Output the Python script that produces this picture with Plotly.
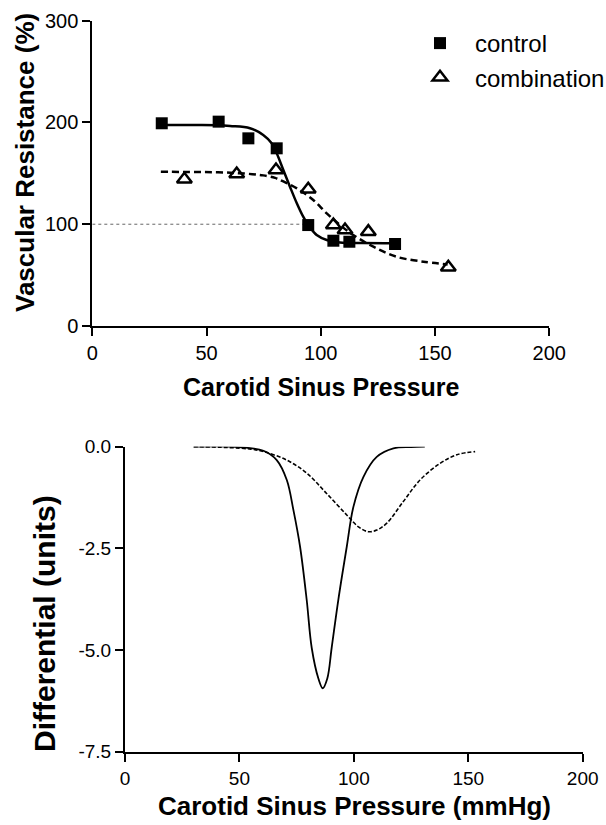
import plotly.graph_objects as go

# ---------------- data ----------------
# Top panel: measured points
control_x = [30.4, 55.3, 68.3, 80.7, 94.5, 105.5, 112.5, 132.5]
control_y = [199.2, 200.8, 184.4, 174.6, 99.2, 83.8, 82.8, 80.6]
combo_x = [40.3, 63.2, 80.4, 94.5, 105.5, 110.6, 120.8, 155.8]
combo_y = [144.1, 149.4, 153.3, 134.3, 99.2, 94.3, 92.7, 57.7]

# Top panel: fitted curves
control_fit_x = [30, 45, 55, 60.3, 69, 74.8, 78.5, 80.7, 83.6, 86.5, 89.5, 92.3,
                 94.5, 98.2, 102.6, 108.4, 118, 132.5]
control_fit_y = [197.5, 197.5, 197.3, 196.5, 194.3, 187.7, 179.5, 169.7, 153.3, 136.9,
                 120.6, 107.4, 99.2, 89.4, 84.5, 82.0, 81.5, 81.3]
combo_fit_x = [30, 45, 55, 63, 70, 74.8, 80, 83.6, 89.5, 96.7, 102.6, 108.4, 114.2,
               123, 133.2, 144.9, 155.5]
combo_fit_y = [151.6, 151.3, 151.0, 150.3, 149.2, 148.0, 145.5, 142.0, 135.3, 123.8,
               110.7, 99.2, 89.4, 77.9, 68.0, 63.2, 60.5]

# Reference (100 %) dotted line
ref_x = [0, 94.5]
ref_y = [100, 100]

# Bottom panel: differential curves
ctrl_diff_x = [30, 50, 60.5, 66.3, 70.7, 73.6, 76.5, 79.4, 81.6, 84.5, 86.4, 88.4, 90.3,
               93.2, 96.9, 99.8, 104.2, 110, 117.3, 125, 131]
ctrl_diff_y = [0, -0.01, -0.1, -0.33, -0.82, -1.56, -2.46, -3.77, -4.95, -5.7, -5.94,
               -5.7, -4.95, -3.77, -2.46, -1.48, -0.74, -0.25, -0.04, -0.01, 0]
combo_diff_x = [30, 45, 55, 60.5, 70.7, 79.4, 88.1, 96.9, 102, 106.3, 110, 114.4, 121.6,
                128.9, 137.7, 145, 153]
combo_diff_y = [0, -0.02, -0.06, -0.12, -0.33, -0.65, -1.15, -1.68, -1.97, -2.09, -2.05,
                -1.88, -1.35, -0.82, -0.41, -0.2, -0.12]

x_ticks = [0, 50, 100, 150, 200]
top_y_ticks = [0, 100, 200, 300]
bot_y_ticks = [0, -2.5, -5.0, -7.5]
bot_y_ticktext = ["0.0", "-2.5", "-5.0", "-7.5"]

# ---------------- figure ----------------
W, H = 606, 825
FONT = "Liberation Sans, Arial, sans-serif"

fig = go.Figure()

# top panel
fig.add_trace(go.Scatter(x=ref_x, y=ref_y, mode="lines",
                         line=dict(color="#666666", width=1, dash="dot"),
                         showlegend=False, hoverinfo="skip", xaxis="x", yaxis="y"))
fig.add_trace(go.Scatter(x=control_fit_x, y=control_fit_y, mode="lines",
                         line=dict(color="black", width=2.5, shape="spline"),
                         showlegend=False, xaxis="x", yaxis="y"))
fig.add_trace(go.Scatter(x=combo_fit_x, y=combo_fit_y, mode="lines",
                         line=dict(color="black", width=2.5, shape="spline", dash="7px,4px"),
                         showlegend=False, xaxis="x", yaxis="y"))
fig.add_trace(go.Scatter(x=control_x, y=control_y, mode="markers", name="control",
                         marker=dict(symbol="square", size=12, color="black"),
                         xaxis="x", yaxis="y", cliponaxis=False))
fig.add_trace(go.Scatter(x=combo_x, y=combo_y, mode="markers", name="combination",
                         marker=dict(symbol="triangle-up-open", size=13, color="black",
                                     line=dict(width=2.5, color="black")),
                         xaxis="x", yaxis="y", cliponaxis=False))

# bottom panel
fig.add_trace(go.Scatter(x=ctrl_diff_x, y=ctrl_diff_y, mode="lines",
                         line=dict(color="black", width=1.8, shape="spline"),
                         showlegend=False, xaxis="x2", yaxis="y2"))
fig.add_trace(go.Scatter(x=combo_diff_x, y=combo_diff_y, mode="lines",
                         line=dict(color="black", width=1.6, shape="spline", dash="4px,2px"),
                         showlegend=False, xaxis="x2", yaxis="y2"))

axis_common = dict(showline=True, linecolor="black", linewidth=2, ticks="outside",
                   ticklen=8, tickwidth=2, tickcolor="black", showgrid=False,
                   zeroline=False, fixedrange=True, automargin=False)

def px_x(p):
    return p / W

def px_y(p):
    return 1 - p / H

fig.update_layout(
    width=W, height=H,
    margin=dict(l=0, r=0, t=0, b=0, pad=0, autoexpand=False),
    paper_bgcolor="white", plot_bgcolor="white",
    font=dict(family=FONT, color="black"),
    xaxis=dict(domain=[px_x(92.3), px_x(549.3)], range=[0, 200], tickvals=x_ticks,
               anchor="y", tickfont=dict(size=20), **axis_common),
    yaxis=dict(domain=[px_y(326), px_y(20.7)], range=[0, 300], tickvals=top_y_ticks,
               anchor="x", tickfont=dict(size=20), **axis_common),
    xaxis2=dict(domain=[px_x(125), px_x(582.7)], range=[0, 200], tickvals=x_ticks,
                anchor="y2", tickfont=dict(size=19), **axis_common),
    yaxis2=dict(domain=[px_y(751.7), px_y(446.7)], range=[-7.5, 0], tickvals=bot_y_ticks,
                ticktext=bot_y_ticktext, anchor="x2", tickfont=dict(size=19), **axis_common),
    legend=dict(x=px_x(405), y=px_y(21), xanchor="left", yanchor="top",
                font=dict(size=24, family=FONT), bgcolor="rgba(0,0,0,0)",
                tracegroupgap=0, itemwidth=60),
    showlegend=True,
)

annots = [
    dict(text="<b>Vascular Resistance (%)</b>", x=px_x(25), y=px_y(163), textangle=-90,
         font=dict(size=26)),
    dict(text="<b>Carotid Sinus Pressure</b>", x=px_x(321), y=px_y(387),
         font=dict(size=25)),
    dict(text="<b>Differential (units)</b>", x=px_x(44), y=px_y(624), textangle=-90,
         font=dict(size=30)),
    dict(text="<b>Carotid Sinus Pressure (mmHg)</b>", x=px_x(354), y=px_y(806),
         font=dict(size=26)),
]
for a in annots:
    fig.add_annotation(xref="paper", yref="paper", showarrow=False,
                       xanchor="center", yanchor="middle", **a)

fig.write_html("out.html", config={"displayModeBar": False},
               post_script="document.body.style.margin='0';document.body.style.overflow='hidden';")
